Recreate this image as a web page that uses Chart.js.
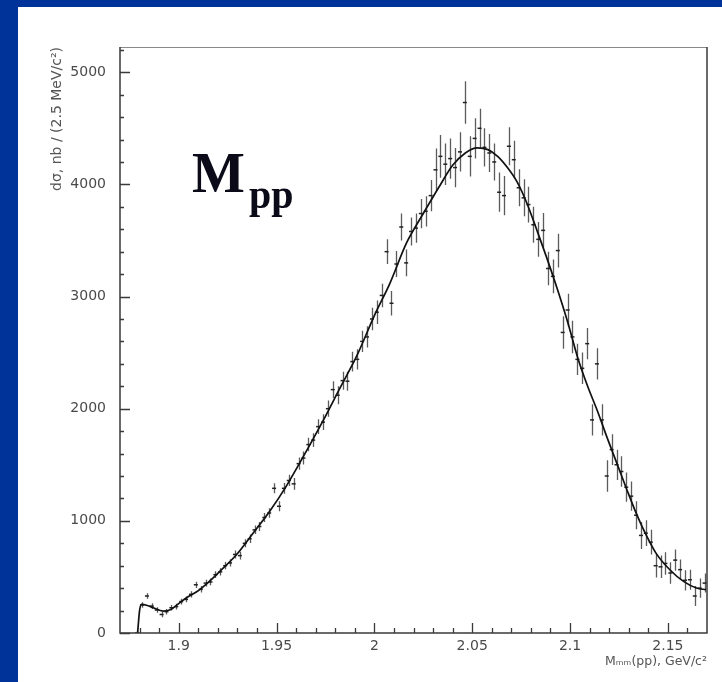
<!DOCTYPE html>
<html>
<head>
<meta charset="utf-8">
<script src="https://cdn.jsdelivr.net/npm/chart.js@4.4.0/dist/chart.umd.min.js"></script>
<style>
  html, body { margin: 0; padding: 0; }
  body { width: 722px; height: 682px; overflow: hidden; background: #003399; position: relative; }
  #sheet { position: absolute; left: 18px; top: 7px; width: 704px; height: 675px; background: #fff; }
  #plot { position: absolute; left: 0; top: 0; }
  .lbl { position: absolute; font-family: "Liberation Serif", serif; font-weight: bold; color: #0a0a18; line-height: 1; white-space: nowrap; }
</style>
</head>
<body>
<div id="sheet">
  <canvas id="plot" width="704" height="675"></canvas>
</div>
<span class="lbl" style="left:192px; top:145px; font-size:56px;">M</span>
<span class="lbl" style="left:249px; top:175px; font-size:40px;">pp</span>
<script>
// pp missing-mass spectrum, 2.5 MeV bins
const massBins = [
  1.87875,1.88125,1.88375,1.88625,1.88875,1.89125,1.89375,1.89625,1.89875,
  1.90125,1.90375,1.90625,1.90875,1.91125,1.91375,1.91625,1.91875,1.92125,1.92375,1.92625,1.92875,
  1.93125,1.93375,1.93625,1.93875,1.94125,1.94375,1.94625,1.94875,1.95125,1.95375,1.95625,1.95875,
  1.96125,1.96375,1.96625,1.96875,1.97125,1.97375,1.97625,1.97875,1.98125,1.98375,1.98625,1.98875,
  1.99125,1.99375,1.99625,1.99875,2.00125,2.00375,2.00625,2.00875,2.01125,2.01375,2.01625,2.01875,
  2.02125,2.02375,2.02625,2.02875,2.03125,2.03375,2.03625,2.03875,2.04125,2.04375,2.04625,2.04875,
  2.05125,2.05375,2.05625,2.05875,2.06125,2.06375,2.06625,2.06875,2.07125,2.07375,2.07625,2.07875,
  2.08125,2.08375,2.08625,2.08875,2.09125,2.09375,2.09625,2.09875,2.10125,2.10375,2.10625,2.10875,
  2.11125,2.11375,2.11625,2.11875,2.12125,2.12375,2.12625,2.12875,2.13125,2.13375,2.13625,2.13875,
  2.14125,2.14375,2.14625,2.14875,2.15125,2.15375,2.15625,2.15875,2.16125,2.16375,2.16625,2.16875
];
const counts = [
  0,250,330,240,205,165,190,225,235,
  280,300,345,430,390,445,455,520,545,600,625,700,
  690,800,840,920,950,1030,1070,1290,1130,1290,1360,1330,
  1510,1560,1680,1720,1840,1880,2000,2170,2120,2250,2245,2420,
  2440,2600,2640,2800,2860,3010,3400,2940,3290,3620,3300,3580,
  3610,3740,3760,3900,4130,4250,4180,4230,4150,4290,4730,4250,
  4410,4500,4330,4280,4200,3930,3900,4340,4220,3970,3880,3820,
  3640,3510,3590,3250,3180,3410,2680,2880,2640,2440,2360,2580,
  1900,2400,1900,1400,1635,1500,1440,1300,1220,1050,870,890,
  810,600,590,620,535,650,565,470,475,330,400,445
];
const countErrors = [
  15,25,25,25,25,25,25,25,25,25,25,28,28,28,30,30,30,32,32,32,35,
  35,35,38,38,40,40,42,45,45,48,50,52,55,58,60,62,65,70,72,75,80,80,85,88,
  90,95,95,100,105,105,110,110,115,120,120,125,130,130,135,140,
  190,190,185,180,175,175,190,180,180,175,170,170,165,175,175,170,170,165,165,160,
  160,155,155,150,150,150,145,145,145,140,140,140,
  140,140,140,140,138,135,135,130,130,125,120,115,
  110,105,100,100,95,95,90,90,90,90,85,85
];

// fitted curve
const fitMass = [
  1.8790,1.8800,1.8810,1.8840,1.8870,1.8920,1.8960,1.9000,1.9040,1.9090,
  1.9150,1.9210,1.9296,1.9380,1.9467,1.9550,1.9636,1.9740,1.9826,1.9910,
  2.0000,2.0080,2.0165,2.0250,2.0335,2.0400,2.0465,2.0525,2.0580,2.0630,
  2.0680,2.0730,2.0780,2.0835,2.0890,2.0940,2.0990,2.1040,2.1090,2.1140,
  2.1190,2.1240,2.1290,2.1340,2.1390,2.1440,2.1510,2.1580,2.1646,2.1695
];
const fitValue = [
  0,200,255,245,225,195,210,262,315,365,
  450,549,700,890,1090,1310,1570,1900,2190,2470,
  2830,3120,3480,3740,3990,4170,4280,4325,4310,4250,
  4150,4020,3830,3570,3300,3040,2760,2450,2200,1980,
  1740,1510,1280,1060,870,710,564,460,401,386
];

const xTicks = [1.9, 1.95, 2, 2.05, 2.1, 2.15];
const yTicks = [0, 1000, 2000, 3000, 4000, 5000];

const tickFont = { family: 'DejaVu Sans', size: 14 };
const inkGrey = '#4a4a4a';

// vertical error bars under the fit
const errorBars = {
  id: 'errorBars',
  beforeDatasetsDraw(chart) {
    const { ctx, scales: { x, y } } = chart;
    ctx.save();
    ctx.strokeStyle = 'rgba(45,45,45,0.78)';
    ctx.lineWidth = 1.3;
    ctx.beginPath();
    massBins.forEach((m, i) => {
      const px = Math.round(x.getPixelForValue(m)) + 0.5;
      ctx.moveTo(px, y.getPixelForValue(Math.max(0, counts[i] - countErrors[i])));
      ctx.lineTo(px, y.getPixelForValue(counts[i] + countErrors[i]));
    });
    ctx.stroke();
    ctx.restore();
  }
};

// box frame with inward major/minor ticks
const frameTicks = {
  id: 'frameTicks',
  afterDraw(chart) {
    const { ctx, chartArea: a, scales: { x, y } } = chart;
    ctx.save();
    ctx.strokeStyle = '#8a8a8a';
    ctx.lineWidth = 1.2;
    ctx.beginPath();
    ctx.moveTo(a.left, a.top + 0.5);
    ctx.lineTo(a.right, a.top + 0.5);
    ctx.stroke();

    ctx.strokeStyle = '#3a3a3a';
    ctx.lineWidth = 1.5;
    ctx.beginPath();
    ctx.moveTo(a.left, a.top);
    ctx.lineTo(a.left, a.bottom);
    ctx.lineTo(a.right, a.bottom);
    ctx.lineTo(a.right, a.top);
    ctx.stroke();

    ctx.lineWidth = 1.3;
    ctx.beginPath();
    for (let v = 0; v <= 5200; v += 200) {
      const py = Math.round(y.getPixelForValue(v)) + 0.5;
      const len = v % 1000 === 0 ? 10 : 4;
      ctx.moveTo(a.left, py);
      ctx.lineTo(a.left + len, py);
    }
    for (let k = 188; k <= 216; k++) {
      const px = Math.round(x.getPixelForValue(k / 100)) + 0.5;
      const len = k % 5 === 0 ? 10 : 5;
      ctx.moveTo(px, a.bottom);
      ctx.lineTo(px, a.bottom - len);
    }
    ctx.stroke();
    ctx.restore();
  }
};

new Chart(document.getElementById('plot'), {
  type: 'scatter',
  data: {
    datasets: [
      {
        type: 'line',
        data: fitMass.map((m, i) => ({ x: m, y: fitValue[i] })),
        borderColor: '#111',
        borderWidth: 1.7,
        pointRadius: 0,
        cubicInterpolationMode: 'monotone',
        fill: false
      },
      {
        data: massBins.map((m, i) => ({ x: m, y: counts[i] })),
        pointStyle: 'line',
        pointRadius: 2,
        borderColor: '#222',
        borderWidth: 1.5
      }
    ]
  },
  options: {
    responsive: false,
    animation: false,
    layout: { padding: { top: 40, right: 15, left: 0, bottom: 0 } },
    plugins: { legend: { display: false }, tooltip: { enabled: false } },
    scales: {
      x: {
        type: 'linear',
        min: 1.87,
        max: 2.17,
        grid: { display: false, drawTicks: false },
        border: { display: false },
        afterBuildTicks: s => { s.ticks = xTicks.map(v => ({ value: v })); },
        afterFit: s => { s.height = 49; },
        ticks: { font: tickFont, color: inkGrey, padding: 5, maxRotation: 0, callback: v => String(v) },
        title: {
          display: true,
          text: 'Mₘₘ(pp), GeV/c²',
          align: 'end',
          color: '#555',
          font: { family: 'DejaVu Sans', size: 12.5 },
          padding: { top: 0, bottom: 13 }
        }
      },
      y: {
        type: 'linear',
        min: 0,
        max: 5225,
        grid: { display: false, drawTicks: false },
        border: { display: false },
        afterBuildTicks: s => { s.ticks = yTicks.map(v => ({ value: v })); },
        afterFit: s => { s.width = 102; },
        ticks: { font: tickFont, color: inkGrey, padding: 14, callback: v => String(v) },
        title: {
          display: true,
          text: 'dσ, nb / (2.5 MeV/c²)',
          align: 'end',
          color: '#555',
          font: { family: 'DejaVu Sans', size: 14 },
          padding: { top: 31, bottom: 0 }
        }
      }
    }
  },
  plugins: [errorBars, frameTicks]
});
</script>
</body>
</html>
